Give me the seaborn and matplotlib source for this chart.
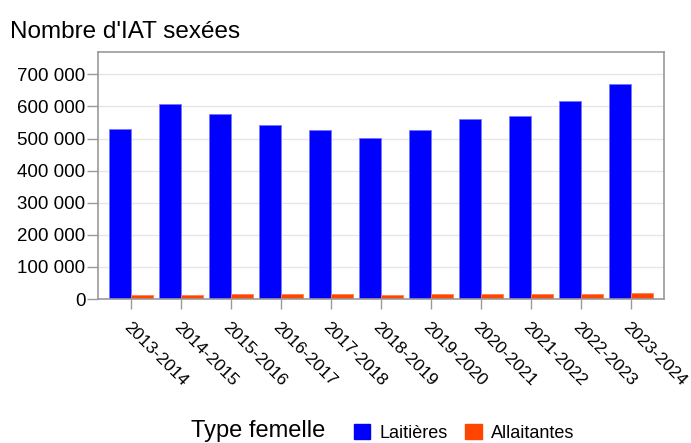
import pandas as pd
import matplotlib.pyplot as plt
import matplotlib.ticker as mticker
import seaborn as sns

# Data
campagnes = ["2013-2014", "2014-2015", "2015-2016", "2016-2017", "2017-2018",
             "2018-2019", "2019-2020", "2020-2021", "2021-2022", "2022-2023",
             "2023-2024"]
laitieres = [529000, 607000, 577000, 541000, 526000, 501000, 526000,
             560000, 569000, 617000, 669000]
allaitantes = [13500, 13500, 15500, 15500, 14500, 13500, 15500,
               16500, 15500, 16500, 17500]
types = ["Laitières", "Allaitantes"]
couleurs = {"Laitières": "#0000FF", "Allaitantes": "#FF4500"}

df = pd.DataFrame({
    "Campagne": campagnes * 2,
    "Type femelle": [types[0]] * len(campagnes) + [types[1]] * len(campagnes),
    "IAT": laitieres + allaitantes,
})

sns.set_style("white")
plt.rcParams["font.family"] = ["Liberation Sans", "DejaVu Sans"]
plt.rcParams["text.color"] = "black"
plt.rcParams["xtick.labelcolor"] = "black"
plt.rcParams["ytick.labelcolor"] = "black"

fig = plt.figure(figsize=(6.91, 4.43), dpi=100)
ax = fig.add_axes([0.142, 0.325, 0.819, 0.558])

sns.barplot(data=df, x="Campagne", y="IAT", hue="Type femelle",
            palette=couleurs, width=0.88, ax=ax, legend=False,
            edgecolor="#7777ff", linewidth=0.6, saturation=1)
for patch in ax.patches[len(campagnes):]:
    patch.set_edgecolor("#ff7f50")

ax.set_xlim(-0.66, len(campagnes) - 0.34)
ax.set_ylim(0, 770000)
ax.set_yticks(range(0, 700001, 100000))
ax.yaxis.set_major_formatter(mticker.FuncFormatter(
    lambda v, p: f"{int(v):,}".replace(",", " ")))
ax.yaxis.grid(True, color="#e6e6e6", linewidth=1)
ax.set_axisbelow(True)
ax.set_xlabel("")
ax.set_ylabel("")

for s in ax.spines.values():
    s.set_color("#999999")
    s.set_linewidth(1.2)

ax.tick_params(axis="y", length=8, width=1, color="#999999",
               labelsize=13.5, pad=1, left=True)
ax.tick_params(axis="x", length=7, width=1, color="#999999",
               labelsize=12.5, pad=8, bottom=True)
plt.setp(ax.get_xticklabels(), rotation=-45, ha="left", va="top",
         rotation_mode="anchor")

fig.text(0.014, 0.915, "Nombre d'IAT sexées", fontsize=17.5, ha="left",
         va="baseline")

# Legend at the bottom
fig.text(0.276, 0.014, "Type femelle", fontsize=17, ha="left",
         va="baseline")
handles = [plt.Rectangle((0, 0), 1, 1, color=couleurs[t]) for t in types]
fig.legend(handles, types, loc="center left", bbox_to_anchor=(0.512, 0.022),
           ncol=2, frameon=False, fontsize=13, handlelength=0.9,
           handleheight=0.9, handletextpad=0.5, columnspacing=1.0,
           borderaxespad=0, borderpad=0)

fig.savefig("out.png", dpi=100)
